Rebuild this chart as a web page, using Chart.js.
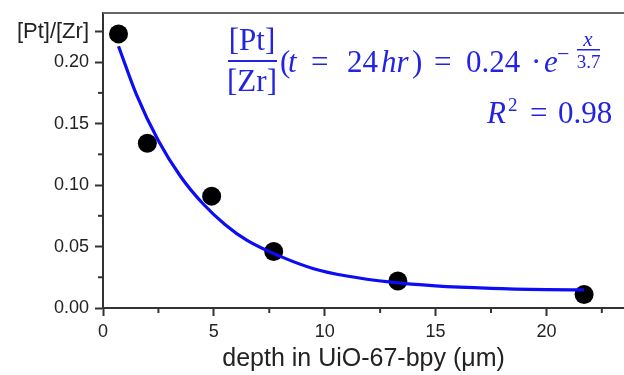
<!DOCTYPE html>
<html lang="en">
<head>
<meta charset="UTF-8">
<title>[Pt]/[Zr] vs depth</title>
<script src="https://cdn.jsdelivr.net/npm/chart.js"></script>
<style>
  body { margin: 0; background: #fff; }
  #wrap { position: relative; width: 624px; height: 375px; }
</style>
</head>
<body>
<div id="wrap"><canvas id="myChart" width="624" height="375"></canvas></div>

<script>
    // measured points
    const depth = [0.7, 2.0, 4.9, 7.7, 13.3, 21.7];
    const ratio = [0.223, 0.134, 0.091, 0.046, 0.022, 0.011];

    // fitted curve
    const fitDepth = [0.7, 1.5, 2.5, 3.5, 4.5, 5.5, 6.5, 8, 9.5, 11, 13, 15, 17.5, 20, 21.7];
    const fitRatio = [0.213, 0.174, 0.136, 0.107, 0.085, 0.068, 0.055, 0.042, 0.032, 0.026, 0.021, 0.018, 0.016, 0.015, 0.0147];

    // ticks ('' = minor tick)
    const xTicks = [0, 2.5, 5, 7.5, 10, 12.5, 15, 17.5, 20, 22.5];
    const xTickLabels = ['0', '', '5', '', '10', '', '15', '', '20', ''];
    const yTicks = [0, 0.025, 0.05, 0.075, 0.1, 0.125, 0.15, 0.175, 0.2, 0.225];
    const yTickLabels = ['0.00', '', '0.05', '', '0.10', '', '0.15', '', '0.20', '[Pt]/[Zr]'];

    const sans = 'Arial, "Liberation Sans", sans-serif';
    const serif = '"Liberation Serif", "Times New Roman", serif';
    const axisColor = '#333';
    const eqColor = '#2323e2';

    // short minor ticks, top frame line and the fit equation
    const extras = {
        id: 'extras',
        afterDraw(chart) {
            const ctx = chart.ctx;
            const a = chart.chartArea;
            const xs = chart.scales.x, ys = chart.scales.y;
            ctx.save();
            ctx.strokeStyle = axisColor;
            ctx.lineWidth = 2;
            xTicks.forEach((v, i) => {
                if (xTickLabels[i] !== '') return;
                const px = xs.getPixelForValue(v);
                ctx.beginPath();
                ctx.moveTo(px, a.bottom);
                ctx.lineTo(px, a.bottom + 5);
                ctx.stroke();
            });
            yTicks.forEach((v, i) => {
                if (yTickLabels[i] !== '') return;
                const py = ys.getPixelForValue(v);
                ctx.beginPath();
                ctx.moveTo(a.left - 5, py);
                ctx.lineTo(a.left, py);
                ctx.stroke();
            });
            ctx.strokeStyle = '#666';
            ctx.beginPath();
            ctx.moveTo(a.left, a.top);
            ctx.lineTo(chart.width, a.top);
            ctx.stroke();

            // fit equation
            ctx.fillStyle = eqColor;
            ctx.textBaseline = 'alphabetic';
            const big = '31px ' + serif, bigI = 'italic 31px ' + serif;
            ctx.textAlign = 'center';
            ctx.font = big;
            ctx.fillText('[Pt]', 252, 50);
            ctx.fillText('[Zr]', 252, 91);
            ctx.fillRect(228, 60, 49, 2);

            ctx.textAlign = 'left';
            const parts = [
                ['(', 280, false], ['t', 288, true], ['=', 311, false], ['24', 347, false],
                ['hr', 381, true], [')', 412, false], ['=', 434, false], ['0.24', 466, false],
                ['·', 531, false], ['e', 544, true]
            ];
            parts.forEach(p => {
                ctx.font = p[2] ? bigI : big;
                ctx.fillText(p[0], p[1], 72);
            });
            ctx.font = '22px ' + serif;
            ctx.fillText('−', 557, 61);
            ctx.textAlign = 'center';
            ctx.font = 'italic 21px ' + serif;
            ctx.fillText('x', 588, 46);
            ctx.fillRect(577, 49, 23, 1.5);
            ctx.font = '19px ' + serif;
            ctx.fillText('3.7', 588.5, 68);

            ctx.textAlign = 'left';
            ctx.font = bigI;
            ctx.fillText('R', 487, 123);
            ctx.font = '19px ' + serif;
            ctx.fillText('2', 508, 111);
            ctx.font = big;
            ctx.fillText('=', 530, 123);
            ctx.fillText('0.98', 558, 123);
            ctx.restore();
        }
    };

    const data = {
        datasets: [{
            label: 'fit',
            data: fitDepth.map((x, i) => ({ x: x, y: fitRatio[i] })),
            showLine: true,
            borderColor: '#0c0cf5',
            borderWidth: 3.2,
            pointRadius: 0,
            cubicInterpolationMode: 'monotone'
        }, {
            label: 'data',
            data: depth.map((x, i) => ({ x: x, y: ratio[i] })),
            showLine: false,
            pointRadius: 9.5,
            pointBackgroundColor: '#000',
            pointBorderWidth: 0
        }]
    };

    const config = {
        type: 'scatter',
        data: data,
        options: {
            responsive: false,
            animation: false,
            clip: false,
            layout: { autoPadding: false, padding: { top: 13, right: 0, bottom: 0, left: 0 } },
            plugins: { legend: { display: false }, tooltip: { enabled: false } },
            scales: {
                x: {
                    type: 'linear', min: 0, max: 23.5,
                    afterBuildTicks: s => { s.ticks = xTicks.map(v => ({ value: v })); },
                    afterFit: s => { s.height = 67; s.paddingLeft = 0; s.paddingRight = 0; },
                    border: { display: true, color: axisColor, width: 2 },
                    grid: {
                        drawOnChartArea: false, tickLength: 8, tickWidth: 2,
                        tickColor: c => xTickLabels[c.index] === '' ? 'rgba(0,0,0,0)' : axisColor
                    },
                    ticks: {
                        padding: 5, color: '#222', maxRotation: 0, autoSkip: false,
                        font: { family: sans, size: 18 },
                        callback: (v, i) => xTickLabels[i]
                    },
                    title: {
                        display: true, text: 'depth in UiO-67-bpy (\u03bcm)', color: '#222',
                        font: { family: sans, size: 25 }, padding: { top: 0, bottom: 1 }
                    }
                },
                y: {
                    type: 'linear', min: 0, max: 0.24,
                    afterBuildTicks: s => { s.ticks = yTicks.map(v => ({ value: v })); },
                    afterFit: s => { s.width = 103; s.paddingTop = 0; s.paddingBottom = 0; },
                    border: { display: true, color: axisColor, width: 2 },
                    grid: {
                        drawOnChartArea: false, tickLength: 8, tickWidth: 2,
                        tickColor: c => yTickLabels[c.index] === '' ? 'rgba(0,0,0,0)' : axisColor
                    },
                    ticks: {
                        padding: 6, color: '#222', autoSkip: false,
                        font: c => ({ family: sans, size: c.index === 9 ? 22 : 18 }),
                        callback: (v, i) => yTickLabels[i]
                    }
                }
            }
        },
        plugins: [extras]
    };

    const myChart = new Chart(document.getElementById('myChart'), config);
</script>
</body>
</html>
